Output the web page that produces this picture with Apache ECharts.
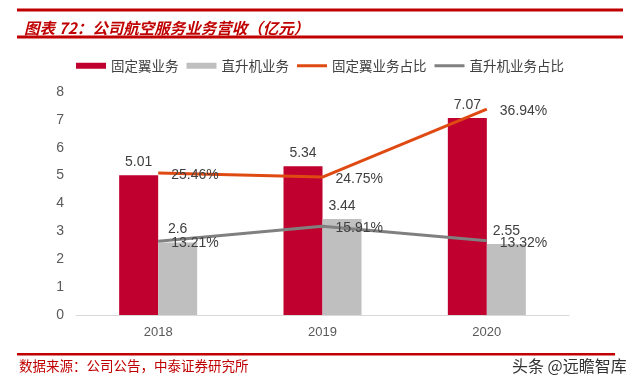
<!DOCTYPE html>
<html>
<head>
<meta charset="utf-8">
<script src="https://cdn.jsdelivr.net/npm/echarts@6/dist/echarts.min.js"></script>
<style>
html,body{margin:0;padding:0;background:#fff;}
#c{width:640px;height:386px;}
</style>
</head>
<body>
<div id="c"></div>
<script>
const categories = ['2018', '2019', '2020'];
const fixedWing = [5.01, 5.34, 7.07];
const helicopter = [2.6, 3.44, 2.55];
const fixedWingShare = [25.46, 24.75, 36.94];
const helicopterShare = [13.21, 15.91, 13.32];
const yTicks = [0, 1, 2, 3, 4, 5, 6, 7, 8];
const seriesNames = ['固定翼业务', '直升机业务', '固定翼业务占比', '直升机业务占比'];

const FONT = '"Liberation Sans", Arial, "Noto Sans CJK SC", sans-serif';
const CJK = '"Noto Sans CJK SC", "Liberation Sans", sans-serif';
const RED = '#C00000';
const LINE_ICON = 'path://M0,0L0,0M30,6L30,6M0,1.5H30V4.5H0Z';

const chart = echarts.init(document.getElementById('c'), null, {renderer: 'canvas'});
chart.setOption({
  backgroundColor: '#fff',
  animation: false,
  title: {
    text: '图表 72：公司航空服务业务营收（亿元）',
    left: 19, top: 15,
    textStyle: {color: RED, fontSize: 15.5, fontStyle: 'italic', fontWeight: 'bold', fontFamily: CJK}
  },
  graphic: [
    {type: 'rect', shape: {x: 17, y: 8.5, width: 606, height: 3}, style: {fill: RED}},
    {type: 'rect', shape: {x: 17, y: 35.5, width: 606, height: 3}, style: {fill: RED}},
    {type: 'rect', shape: {x: 17, y: 353, width: 598, height: 2.5}, style: {fill: RED}},
    {type: 'text', left: 19, top: 359, style: {text: '数据来源：公司公告，中泰证券研究所', fill: RED, font: '13.5px ' + CJK}},
    {type: 'text', left: 512, top: 358, style: {text: '头条 @远瞻智库', fill: '#333', font: '16px ' + CJK}}
  ],
  legend: {
    top: 54, left: 'center',
    itemWidth: 30, itemHeight: 6, itemGap: 8,
    textStyle: {color: '#404040', fontSize: 13.5, fontFamily: CJK},
    data: [
      {name: seriesNames[0], icon: 'rect'},
      {name: seriesNames[1], icon: 'rect'},
      {name: seriesNames[2], icon: LINE_ICON},
      {name: seriesNames[3], icon: LINE_ICON}
    ]
  },
  grid: {left: 76, right: 71, top: 92, bottom: 71},
  xAxis: {
    type: 'category', data: categories,
    axisLine: {lineStyle: {color: '#D9D9D9', width: 1}},
    axisTick: {show: false},
    axisLabel: {color: '#595959', fontSize: 13, fontFamily: FONT, margin: 11}
  },
  yAxis: [
    {
      type: 'value', min: yTicks[0], max: yTicks[yTicks.length - 1], interval: 1,
      axisLine: {show: false}, axisTick: {show: false}, splitLine: {show: false},
      axisLabel: {color: '#595959', fontSize: 14, fontFamily: FONT, margin: 12}
    },
    {
      type: 'value', min: 0, max: 40, show: false, splitLine: {show: false}
    }
  ],
  series: [
    {
      name: seriesNames[0], type: 'bar', data: fixedWing, barWidth: 39, barGap: '0%',
      itemStyle: {color: '#C0002F'},
      label: {show: true, position: 'top', distance: 6, color: '#404040', fontSize: 14, fontFamily: FONT}
    },
    {
      name: seriesNames[1], type: 'bar', data: helicopter, barWidth: 39, barGap: '0%',
      itemStyle: {color: '#BFBFBF'},
      label: {show: true, position: 'top', distance: 6, color: '#404040', fontSize: 14, fontFamily: FONT}
    },
    {
      name: seriesNames[2], type: 'line', yAxisIndex: 1, data: fixedWingShare,
      symbol: 'circle', symbolSize: 0, showSymbol: true, z: 5,
      lineStyle: {color: '#DF4A12', width: 3}, itemStyle: {color: '#DF4A12'},
      label: {show: true, position: 'right', distance: 13, offset: [0, 2], formatter: '{c}%', color: '#404040', fontSize: 14, fontFamily: FONT}
    },
    {
      name: seriesNames[3], type: 'line', yAxisIndex: 1, data: helicopterShare,
      symbol: 'circle', symbolSize: 0, showSymbol: true, z: 5,
      lineStyle: {color: '#808080', width: 3}, itemStyle: {color: '#808080'},
      label: {show: true, position: 'right', distance: 13, offset: [0, 2], formatter: '{c}%', color: '#404040', fontSize: 14, fontFamily: FONT}
    }
  ]
});
</script>
</body>
</html>
